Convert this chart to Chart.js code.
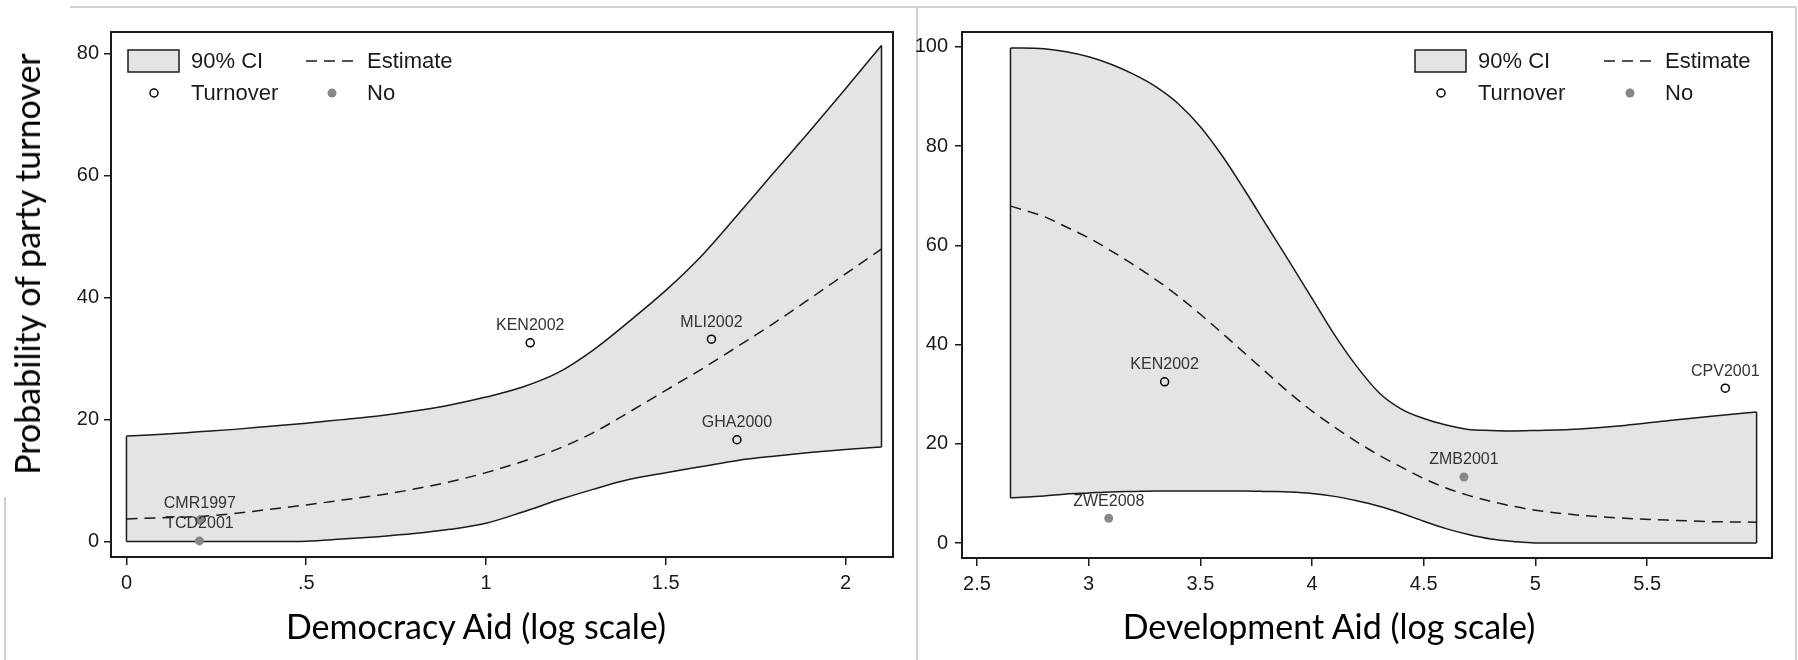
<!DOCTYPE html>
<html>
<head>
<meta charset="utf-8">
<script src="https://cdn.jsdelivr.net/npm/chart.js@4.4.0/dist/chart.umd.min.js"></script>
<style>
  body { margin: 0; background: #fff; }
  #page { position: relative; width: 1798px; height: 660px; overflow: hidden; background: #fff; }
  .rule { position: absolute; background: #d0d0d0; }
  canvas { position: absolute; top: 0; }
  .title { position: absolute; font-family: Lato, "Open Sans", sans-serif; font-size: 34px; color: #000; white-space: nowrap; line-height: 1; }
</style>
</head>
<body>
<div id="page">
  <div class="rule" style="left:70px;top:6px;width:1727px;height:2px"></div>
  <div class="rule" style="left:916px;top:7px;width:2px;height:653px"></div>
  <div class="rule" style="left:4px;top:497px;width:2px;height:163px"></div>
  <div class="rule" style="left:1795px;top:7px;width:2px;height:653px"></div>
  <canvas id="demChart" width="910" height="610" style="left:0"></canvas>
  <canvas id="devChart" width="893" height="610" style="left:905px"></canvas>
  <div class="title" style="left:27px;top:264px;transform:translate(-50%,-50%) rotate(-90deg)">Probability of party turnover</div>
  <div class="title" style="left:476px;top:609px;transform:translateX(-50%)">Democracy Aid (log scale)</div>
  <div class="title" style="left:1329px;top:609px;transform:translateX(-50%)">Development Aid (log scale)</div>
</div>
<script>
// Panneau gauche : aide à la démocratie
const demGrid = [0, 0.1, 0.2, 0.3, 0.4, 0.5, 0.6, 0.7, 0.8, 0.9, 1.0, 1.1, 1.2, 1.3, 1.4, 1.5, 1.6, 1.7, 1.8, 1.9, 2.0, 2.1];
const demUpper = [17.3, 17.6, 18.0, 18.4, 18.9, 19.4, 20.0, 20.6, 21.4, 22.4, 23.7, 25.3, 27.7, 31.5, 36.2, 41.2, 46.9, 53.6, 60.5, 67.3, 74.3, 81.4];
const demLower = [0, 0, 0, 0, 0, 0.05, 0.4, 0.8, 1.3, 2.0, 3.0, 4.8, 6.8, 8.6, 10.2, 11.3, 12.3, 13.3, 14.0, 14.6, 15.1, 15.5];
const demEstimate = [3.7, 3.9, 4.1, 4.6, 5.3, 6.0, 6.8, 7.6, 8.6, 9.8, 11.3, 13.1, 15.2, 17.9, 21.3, 24.8, 28.3, 32.0, 35.8, 39.8, 43.9, 48.0];
const demTurnoverX = [1.123, 1.627, 1.698];
const demTurnoverY = [32.6, 33.2, 16.7];
const demTurnoverNames = ['KEN2002', 'MLI2002', 'GHA2000'];
const demNoX = [0.204, 0.203];
const demNoY = [3.5, 0.1];
const demNoNames = ['CMR1997', 'TCD2001'];
const demXTicks = [0, 0.5, 1, 1.5, 2];
const demXTickLabels = ['0', '.5', '1', '1.5', '2'];
const demYTicks = [0, 20, 40, 60, 80];

// Panneau droit : aide au développement
const devGrid = [2.65, 2.8, 2.9, 3.0, 3.1, 3.2, 3.3, 3.4, 3.5, 3.6, 3.7, 3.8, 3.9, 4.0, 4.1, 4.2, 4.3, 4.4, 4.5, 4.6, 4.7, 4.8, 4.9, 5.0, 5.2, 5.4, 5.6, 5.8, 5.99];
const devUpper = [99.8, 99.6, 99.0, 98.0, 96.5, 94.5, 92.0, 88.6, 83.9, 77.9, 71.0, 63.8, 56.6, 49.3, 42.0, 35.6, 30.3, 27.0, 25.1, 23.8, 22.9, 22.7, 22.6, 22.7, 23.0, 23.7, 24.7, 25.6, 26.4];
const devLower = [9.1, 9.5, 9.9, 10.1, 10.3, 10.4, 10.5, 10.5, 10.5, 10.5, 10.5, 10.4, 10.3, 10.0, 9.4, 8.5, 7.4, 6.0, 4.4, 2.9, 1.7, 0.8, 0.3, 0, 0, 0, 0, 0, 0];
const devEstimate = [67.9, 65.8, 63.7, 61.5, 58.9, 56.1, 53.1, 49.8, 46.1, 42.2, 38.2, 34.2, 30.2, 26.6, 23.4, 20.4, 17.7, 15.3, 13.0, 11.1, 9.6, 8.4, 7.4, 6.6, 5.6, 5.0, 4.6, 4.3, 4.2];
const devTurnoverX = [3.34, 5.85];
const devTurnoverY = [32.5, 31.2];
const devTurnoverNames = ['KEN2002', 'CPV2001'];
const devNoX = [3.09, 4.68];
const devNoY = [5.0, 13.3];
const devNoNames = ['ZWE2008', 'ZMB2001'];
const devXTicks = [2.5, 3, 3.5, 4, 4.5, 5, 5.5];
const devXTickLabels = ['2.5', '3', '3.5', '4', '4.5', '5', '5.5'];
const devYTicks = [0, 20, 40, 60, 80, 100];

const legendLabels = ['90% CI', 'Estimate', 'Turnover', 'No'];

const INK = '#1a1a1a';
const CI_FILL = '#e4e4e4';
const NO_GRAY = '#878787';

Chart.defaults.font.family = '"Liberation Sans", Arial, sans-serif';

function pts(xs, ys) {
    return xs.map((x, i) => ({ x: x, y: ys[i] }));
}

function drawHollow(ctx, x, y) {
    ctx.beginPath();
    ctx.arc(x, y, 4, 0, Math.PI * 2);
    ctx.lineWidth = 1.5;
    ctx.strokeStyle = '#000';
    ctx.stroke();
}

function drawDot(ctx, x, y) {
    ctx.beginPath();
    ctx.arc(x, y, 4.5, 0, Math.PI * 2);
    ctx.fillStyle = NO_GRAY;
    ctx.fill();
}

// Cadre, étiquettes des points et légende
const framePlugin = {
    id: 'frame',
    afterDatasetsDraw(chart, args, opts) {
        const ctx = chart.ctx;
        const a = chart.chartArea;
        const xs = chart.scales.x;
        const ys = chart.scales.y;
        ctx.save();

        ctx.font = '16px "Liberation Sans", Arial, sans-serif';
        ctx.fillStyle = '#333';
        ctx.textAlign = 'center';
        ctx.textBaseline = 'middle';
        opts.names.forEach(n => {
            ctx.fillText(n.text, xs.getPixelForValue(n.x), ys.getPixelForValue(n.y) - 17);
        });

        ctx.lineWidth = 2;
        ctx.strokeStyle = INK;
        ctx.strokeRect(a.left, a.top, a.right - a.left, a.bottom - a.top);

        // légende
        const lx = opts.legendX;
        const c2 = opts.col2;
        ctx.fillStyle = CI_FILL;
        ctx.fillRect(lx, 50, 51, 22);
        ctx.lineWidth = 1.5;
        ctx.strokeStyle = INK;
        ctx.strokeRect(lx, 50, 51, 22);

        ctx.beginPath();
        ctx.setLineDash([11, 7]);
        ctx.moveTo(lx + c2, 61);
        ctx.lineTo(lx + c2 + 50, 61);
        ctx.stroke();
        ctx.setLineDash([]);

        drawHollow(ctx, lx + 26, 93);
        drawDot(ctx, lx + c2 + 26, 93);

        ctx.font = '22px "Liberation Sans", Arial, sans-serif';
        ctx.fillStyle = INK;
        ctx.textAlign = 'left';
        ctx.fillText(legendLabels[0], lx + 63, 62);
        ctx.fillText(legendLabels[1], lx + c2 + 61, 62);
        ctx.fillText(legendLabels[2], lx + 63, 94);
        ctx.fillText(legendLabels[3], lx + c2 + 61, 94);
        ctx.restore();
    }
};

function buildChart(id, p) {
    const line = { showLine: true, pointRadius: 0, borderColor: INK, borderWidth: 1.5, cubicInterpolationMode: 'monotone' };
    const last = p.grid.length - 1;
    const names = [];
    p.turnX.forEach((x, i) => names.push({ x: x, y: p.turnY[i], text: p.turnNames[i] }));
    p.noX.forEach((x, i) => names.push({ x: x, y: p.noY[i], text: p.noNames[i] }));

    return new Chart(document.getElementById(id), {
        type: 'scatter',
        data: {
            datasets: [
                Object.assign({ label: 'upper', data: pts(p.grid, p.upper), fill: '+1', backgroundColor: CI_FILL, order: 6 }, line),
                Object.assign({ label: 'lower', data: pts(p.grid, p.lower), fill: false, order: 5 }, line),
                Object.assign({ label: 'edgeL', data: [{ x: p.grid[0], y: p.lower[0] }, { x: p.grid[0], y: p.upper[0] }], fill: false, order: 4 }, line),
                Object.assign({ label: 'edgeR', data: [{ x: p.grid[last], y: p.lower[last] }, { x: p.grid[last], y: p.upper[last] }], fill: false, order: 4 }, line),
                Object.assign({ label: 'Estimate', data: pts(p.grid, p.estimate), fill: false, borderDash: [11, 7], order: 3 }, line),
                { label: 'Turnover', data: pts(p.turnX, p.turnY), pointRadius: 4, pointBorderWidth: 1.5, pointBorderColor: '#000', pointBackgroundColor: 'rgba(0,0,0,0)', order: 2 },
                { label: 'No', data: pts(p.noX, p.noY), pointRadius: 4.5, pointBorderWidth: 0, pointBackgroundColor: NO_GRAY, pointBorderColor: NO_GRAY, order: 1 }
            ]
        },
        options: {
            responsive: false,
            animation: false,
            events: [],
            layout: { padding: { top: 32, right: p.padRight, left: 0, bottom: 0 } },
            scales: {
                x: {
                    type: 'linear',
                    min: p.xMin,
                    max: p.xMax,
                    afterBuildTicks: s => { s.ticks = p.xTicks.map(v => ({ value: v })); },
                    afterFit: s => { s.height = p.xHeight; },
                    grid: { drawOnChartArea: false, drawTicks: true, tickLength: 8, color: INK, lineWidth: 1.5 },
                    border: { display: false },
                    ticks: {
                        callback: (v, i) => p.xTickLabels[i],
                        font: { size: 20 },
                        color: INK,
                        padding: 6,
                        maxRotation: 0,
                        autoSkip: false
                    }
                },
                y: {
                    type: 'linear',
                    min: p.yMin,
                    max: p.yMax,
                    afterBuildTicks: s => { s.ticks = p.yTicks.map(v => ({ value: v })); },
                    afterFit: s => { s.width = p.yWidth; },
                    grid: { drawOnChartArea: false, drawTicks: true, tickLength: 7, color: INK, lineWidth: 1.5 },
                    border: { display: false },
                    ticks: {
                        callback: v => String(v),
                        font: { size: 20 },
                        color: INK,
                        padding: p.yPad,
                        autoSkip: false
                    }
                }
            },
            plugins: {
                legend: { display: false },
                tooltip: { enabled: false },
                frame: { names: names, legendX: p.legendX, col2: p.col2 }
            }
        },
        plugins: [framePlugin]
    });
}

buildChart('demChart', {
    grid: demGrid, upper: demUpper, lower: demLower, estimate: demEstimate,
    turnX: demTurnoverX, turnY: demTurnoverY, turnNames: demTurnoverNames,
    noX: demNoX, noY: demNoY, noNames: demNoNames,
    xTicks: demXTicks, xTickLabels: demXTickLabels, yTicks: demYTicks,
    xMin: -0.043, xMax: 2.132, yMin: -2.54, yMax: 83.6,
    yWidth: 111, xHeight: 53, padRight: 17, yPad: 5,
    legendX: 128, col2: 178
});

buildChart('devChart', {
    grid: devGrid, upper: devUpper, lower: devLower, estimate: devEstimate,
    turnX: devTurnoverX, turnY: devTurnoverY, turnNames: devTurnoverNames,
    noX: devNoX, noY: devNoY, noNames: devNoNames,
    xTicks: devXTicks, xTickLabels: devXTickLabels, yTicks: devYTicks,
    xMin: 2.433, xMax: 6.059, yMin: -3.02, yMax: 103.0,
    yWidth: 57, xHeight: 52, padRight: 26, yPad: 7,
    legendX: 510, col2: 189
});
</script>
</body>
</html>
